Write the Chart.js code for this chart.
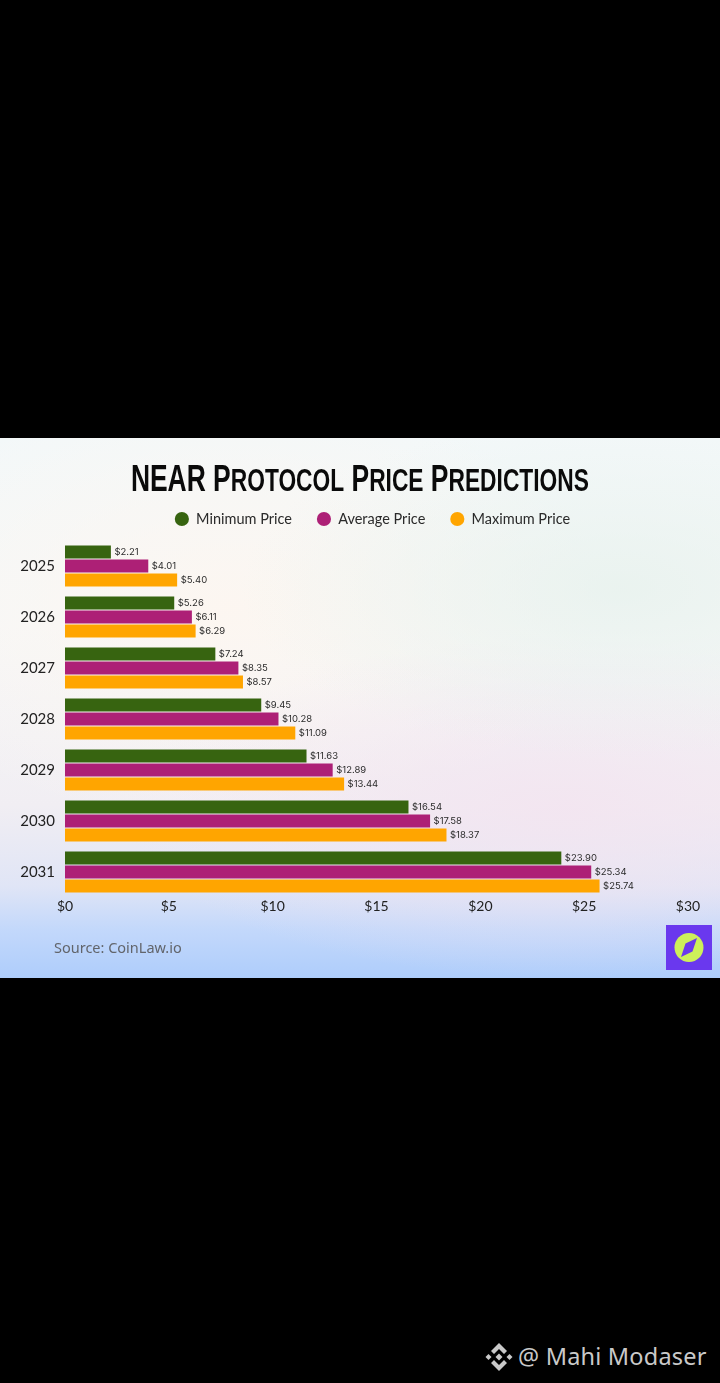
<!DOCTYPE html>
<html><head><meta charset="utf-8">
<script src="https://cdn.jsdelivr.net/npm/chart.js@4"></script>
<style>
html,body{margin:0;padding:0;background:#000;width:720px;height:1383px;overflow:hidden}
#panel{position:absolute;left:0;top:438px;width:720px;height:540px;overflow:hidden;
background:
radial-gradient(ellipse 380px 170px at 620px 150px,rgba(230,241,236,.75),rgba(230,241,236,0)),
radial-gradient(ellipse 440px 170px at 560px 370px,rgba(243,228,240,.85),rgba(243,228,240,0)),
radial-gradient(ellipse 380px 220px at 230px 170px,rgba(253,246,240,.9),rgba(253,246,240,0)),
linear-gradient(180deg,#f3f8f9 0%,#f6f8f8 35%,#f1eef3 68%,#e0e5f6 83%,#c3d8fb 91%,#aecdfb 100%)}
#c{position:absolute;left:0;top:0}
#title{position:absolute;left:0;top:18px;width:720px;text-align:center;white-space:nowrap;
font:bold 36px "Liberation Sans",sans-serif;color:#0a0a0a;line-height:46px;height:46px}
#title span{display:inline-block;transform-origin:center}
#title i{font-style:normal;font-size:31px;text-transform:uppercase}
#src{position:absolute;left:54px;top:499px;font:14.5px "Noto Sans",sans-serif;color:#62656b}
#logo{position:absolute;left:666px;top:487px}
#wm{position:absolute;left:518px;top:1340px;font:23.5px "Noto Sans",sans-serif;color:#c9c9c9;letter-spacing:.2px;white-space:nowrap}
#bn{position:absolute;left:485px;top:1343px}
</style></head><body>
<div id="panel"><canvas id="c" width="720" height="540"></canvas>
<div id="title"><span id="tt">NEAR P<i>rotocol</i> P<i>rice</i> P<i>redictions</i></span></div>
<div id="src">Source: CoinLaw.io</div>
<svg id="logo" width="46" height="45" viewBox="0 0 46 45"><rect width="46" height="45" fill="#6a38ee"/><circle cx="23" cy="22.5" r="14.5" fill="#cdf05a"/><path d="M31 13 L26.5 26.5 L15 32 L19.5 18.5 Z" fill="#6a38ee"/></svg>
</div>
<svg id="bn" width="28" height="28" viewBox="0 0 28 28" fill="#c9c9c9"><path d="M14 0l8 8-3 3-5-5-5 5-3-3z"/><path d="M14 28l8-8-3-3-5 5-5-5-3 3z"/><path d="M3.500 11L6.500 14l-3 3L.500 14z"/><path d="M24.500 11l3 3-3 3-3-3z"/><path d="M14 10.500l3.500 3.500-3.500 3.500-3.500-3.500z"/></svg>
<div id="wm">@ Mahi Modaser</div>
<script>
const years = ['2025','2026','2027','2028','2029','2030','2031'];
const minimumPrice = [2.21,5.26,7.24,9.45,11.63,16.54,23.90];
const averagePrice = [4.01,6.11,8.35,10.28,12.89,17.58,25.34];
const maximumPrice = [5.40,6.29,8.57,11.09,13.44,18.37,25.74];
const xTicks = [0,5,10,15,20,25,30];

const tt = document.getElementById('tt');
tt.style.transform = 'scaleX(' + (458 / tt.getBoundingClientRect().width) + ')';

const valueLabels = {
  id:'valueLabels',
  afterDatasetsDraw(chart){
    const {ctx} = chart;
    ctx.save();
    ctx.font = '400 9.5px Inter, sans-serif';
    ctx.fillStyle = '#2b2b2b';
    ctx.textBaseline = 'middle';
    ctx.textAlign = 'left';
    chart.data.datasets.forEach((ds,i)=>{
      chart.getDatasetMeta(i).data.forEach((bar,j)=>{
        ctx.fillText('$'+ds.data[j].toFixed(2), bar.x+3.5, bar.y);
      });
    });
    ctx.restore();
  }
};
const legendPlacer = {
  id:'legendPlacer',
  beforeLayout(chart){
    const l = chart.legend;
    if(!l._wrapped){
      const fit = l.fit;
      l.fit = function(){ fit.call(this); this.height = 53.75; };
      l._wrapped = true;
    }
  },
  afterLayout(chart){ chart.legend.left = 57; }
};
new Chart(document.getElementById('c'),{
  type:'bar',
  data:{labels:years,datasets:[
    {label:'Minimum Price',data:minimumPrice,backgroundColor:'#376410'},
    {label:'Average Price',data:averagePrice,backgroundColor:'#ad2076'},
    {label:'Maximum Price',data:maximumPrice,backgroundColor:'#ffa500'}
  ]},
  plugins:[valueLabels,legendPlacer],
  options:{
    indexAxis:'y',responsive:false,animation:false,devicePixelRatio:1,
    layout:{padding:{left:0,right:32,top:48.75,bottom:0}},
    datasets:{bar:{categoryPercentage:42/51,barPercentage:13/14}},
    plugins:{
      tooltip:{enabled:false},
      title:{display:false},
      legend:{display:true,position:'top',
        labels:{usePointStyle:true,pointStyle:'circle',boxWidth:14,boxHeight:10,color:'#2a2a2a',padding:25,
          font:{family:'Lato, sans-serif',size:14.5}}}
    },
    scales:{
      x:{min:0,max:30,grid:{display:false,drawTicks:false},border:{display:false},
        afterFit(s){s.height=80.5;},
        afterBuildTicks(s){s.ticks=xTicks.map(v=>({value:v}));},
        ticks:{color:'#222',padding:1,maxRotation:0,font:{family:'Lato, sans-serif',size:14},callback:v=>'$'+v}},
      y:{grid:{display:false,drawTicks:false},border:{display:false},
        afterFit(s){s.width=65;},
        ticks:{color:'#222',padding:10,font:{family:'Lato, sans-serif',size:15}}}
    }
  }
});
</script></body></html>
